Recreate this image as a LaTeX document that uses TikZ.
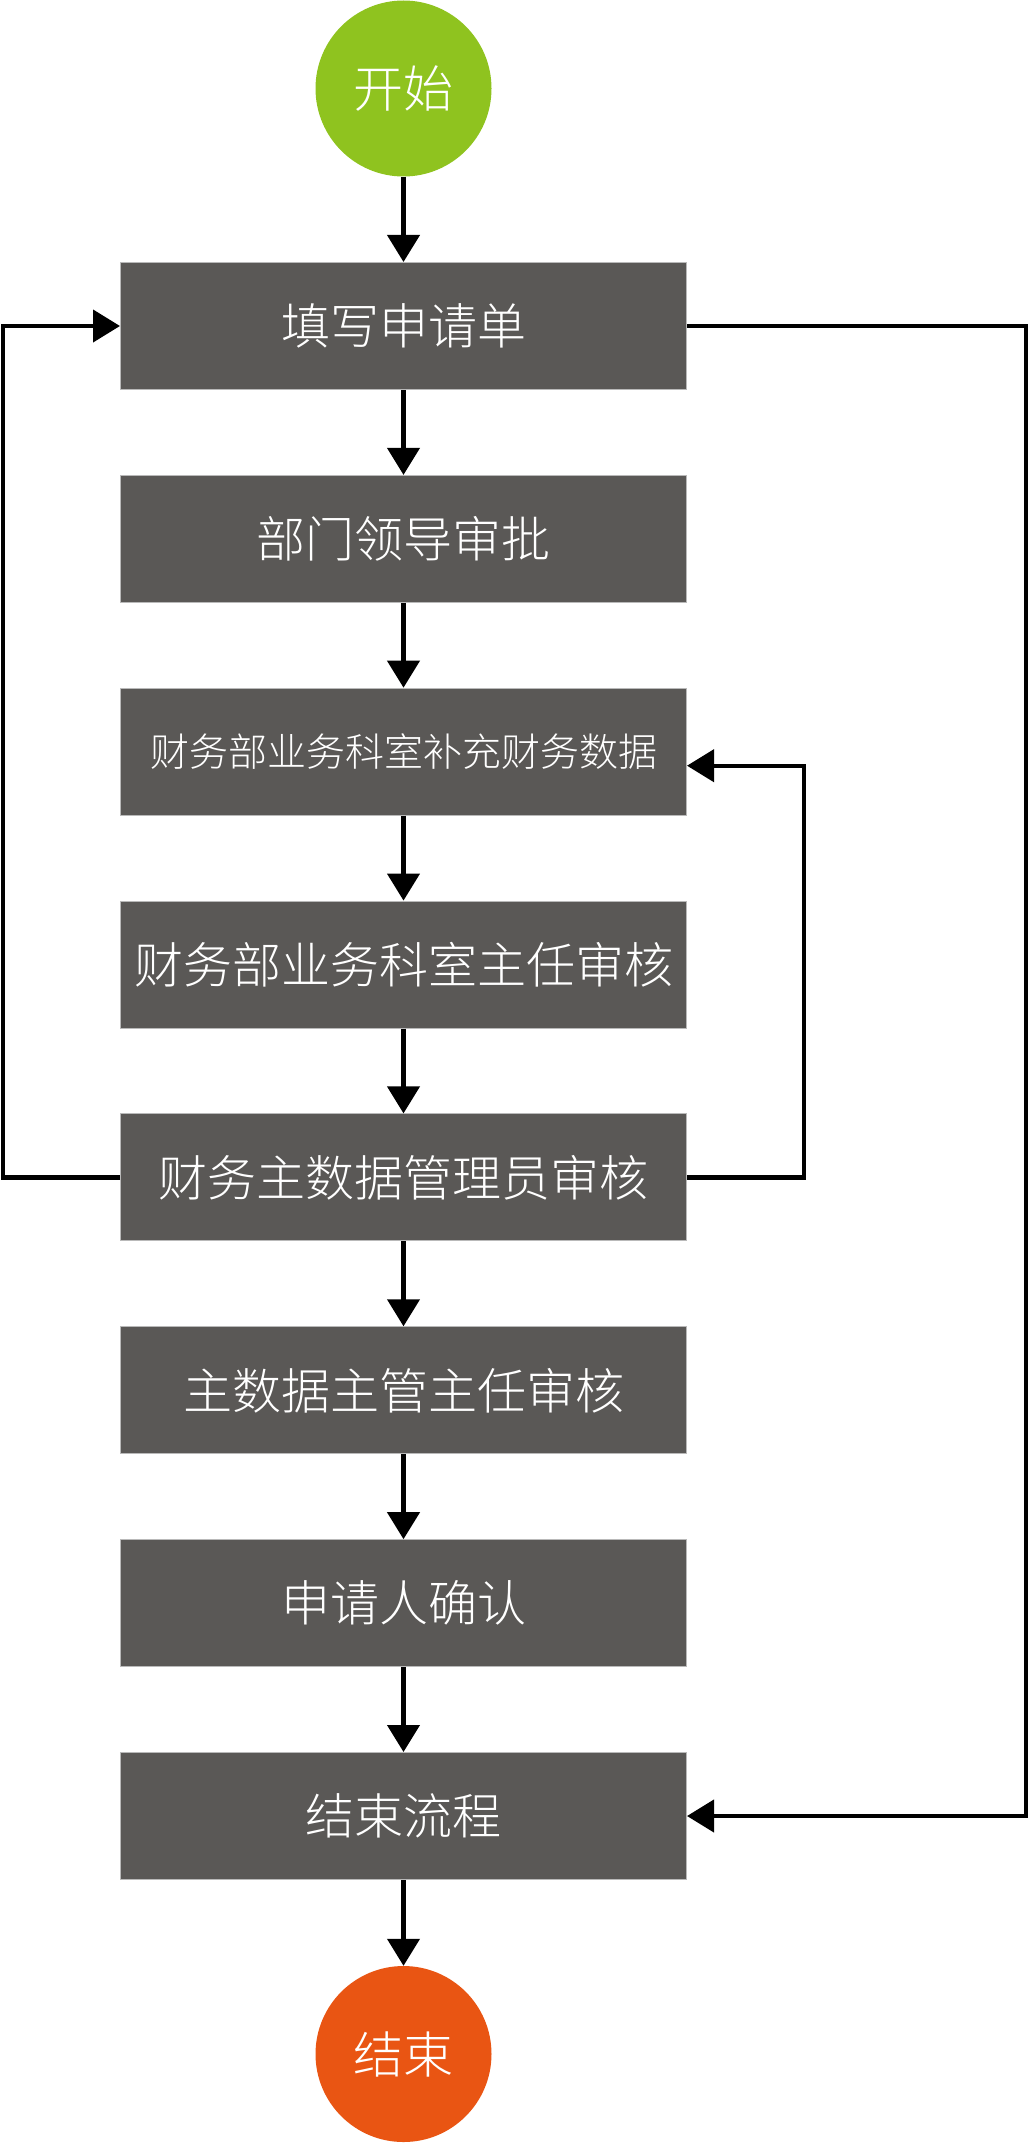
\documentclass[tikz,border=0pt]{standalone}
\usepackage{fontspec}
\setmainfont{Noto Sans CJK SC}[UprightFont = * Light]
\usetikzlibrary{arrows.meta,positioning}
\definecolor{boxgray}{HTML}{5A5856}
\definecolor{startgreen}{HTML}{8FC31F}
\definecolor{endorange}{HTML}{E95513}
\tikzset{
  stepbox/.style={rectangle, fill=boxgray, draw=gray!55, line width=1pt,
    minimum width=566pt, minimum height=127pt, inner sep=0pt,
    text=white, font=\fontsize{49}{49}\selectfont},
  term/.style={circle, minimum size=176pt, inner sep=0pt, text=white,
    font=\fontsize{50}{50}\selectfont},
  conn/.style={line width=4.2pt, line join=miter, -{Triangle[length=27pt,width=32pt]}},
}
\begin{document}
\begin{tikzpicture}[x=1pt,y=-1pt]
\useasboundingbox (0,0) rectangle (1031,2143);
\node[term, fill=startgreen] (s) at (403.5,88.5) {开始};
\node[stepbox] (b1) at (403.5,326.0) {填写申请单};
\node[stepbox] (b2) at (403.5,538.9) {部门领导审批};
\node[stepbox, font=\fontsize{39}{39}\selectfont] (b3) at (403.5,751.7) {财务部业务科室补充财务数据};
\node[stepbox] (b4) at (403.5,964.6) {财务部业务科室主任审核};
\node[stepbox] (b5) at (403.5,1177.4) {财务主数据管理员审核};
\node[stepbox] (b6) at (403.5,1390.3) {主数据主管主任审核};
\node[stepbox] (b7) at (403.5,1603.2) {申请人确认};
\node[stepbox] (b8) at (403.5,1816.0) {结束流程};
\node[term, fill=endorange] (e) at (403.5,2054) {结束};
\draw[conn] (s) -- (b1);
\draw[conn] (b1) -- (b2);
\draw[conn] (b2) -- (b3);
\draw[conn] (b3) -- (b4);
\draw[conn] (b4) -- (b5);
\draw[conn] (b5) -- (b6);
\draw[conn] (b6) -- (b7);
\draw[conn] (b7) -- (b8);
\draw[conn] (b8) -- (e);
\draw[conn] (b5.west) -- ++(-117,0) |- (b1.west);
\draw[conn] (b5.east) -- ++(117,0) |- ([yshift=-14pt]b3.east);
\draw[conn] (b1.east) -- ++(339,0) |- (b8.east);
\end{tikzpicture}
\end{document}
